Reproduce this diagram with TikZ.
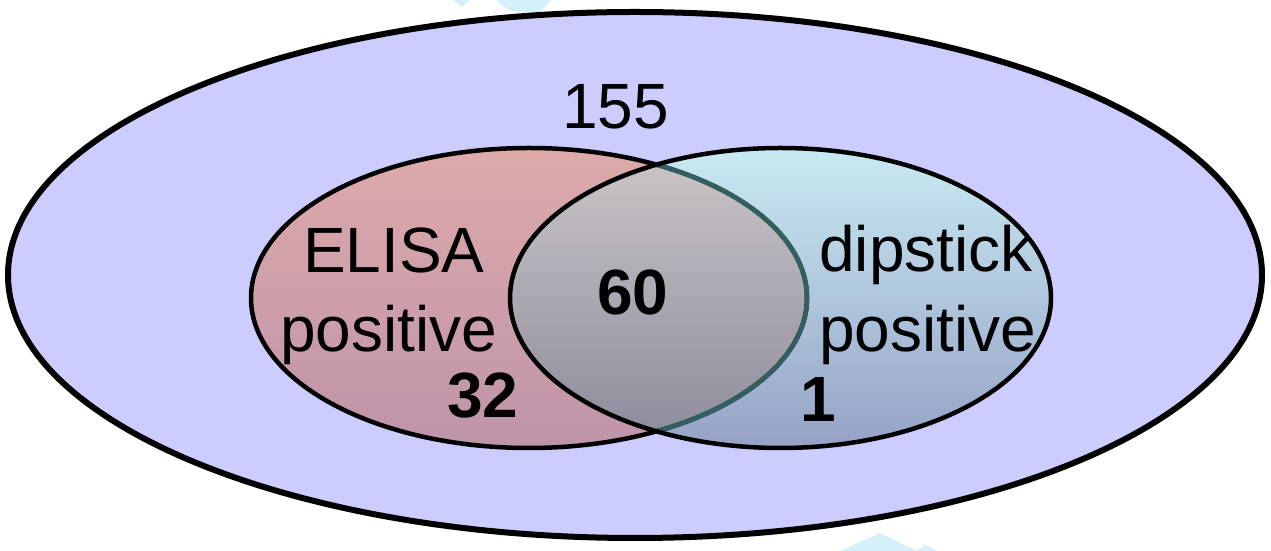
\documentclass[tikz,border=0pt]{standalone}
\usepackage{fontspec}
\setmainfont{Liberation Sans}
\definecolor{outerfill}{RGB}{204,204,255}
\definecolor{redtop}{RGB}{222,170,170}
\definecolor{redbot}{RGB}{190,148,170}
\definecolor{bluetop}{RGB}{200,234,242}
\definecolor{bluebot}{RGB}{150,162,198}
\definecolor{midtop}{RGB}{204,198,200}
\definecolor{midbot}{RGB}{140,138,155}
\definecolor{tealline}{RGB}{50,95,95}
\definecolor{wmark}{RGB}{212,240,250}
\tikzset{
  lbl/.style={inner sep=0pt, anchor=base west, font=\fontsize{64}{64}\selectfont},
  lblb/.style={lbl, font=\fontsize{64}{64}\selectfont\bfseries},
  outerline/.style={line width=6pt, draw=black},
  innerline/.style={line width=4.5pt, draw=black}
}
\begin{document}
\begin{tikzpicture}[x=1pt,y=1pt]
\useasboundingbox (0,0) rectangle (1271,551);
% faint watermark fragments
\fill[wmark] (453,551) -- (470,551) -- (462,544) -- cycle;
\fill[wmark] (496,551) -- (551,551) -- (540,538) -- (510,540) -- cycle;
\fill[wmark] (840,0) -- (917,0) -- (880,18) -- cycle;
\fill[wmark] (917,0) -- (938,0) -- (925,6) -- cycle;
% outer ellipse
\fill[outerfill] (635,276) ellipse [x radius=627, y radius=263];
% blue then red fills
\shade[top color=bluetop, bottom color=bluebot] (780.5,253) ellipse [x radius=270.5, y radius=150];
\shade[top color=redtop, bottom color=redbot] (529,253) ellipse [x radius=278, y radius=150];
% intersection
\begin{scope}
  \clip (529,253) ellipse [x radius=278, y radius=150];
  \shade[top color=midtop, bottom color=midbot] (780.5,253) ellipse [x radius=270.5, y radius=150];
\end{scope}
% outlines
\draw[innerline] (529,253) ellipse [x radius=278, y radius=150];
\begin{scope}
  \clip (780.5,253) ellipse [x radius=270.5, y radius=150];
  \draw[innerline, draw=tealline] (529,253) ellipse [x radius=278, y radius=150];
\end{scope}
\draw[innerline] (780.5,253) ellipse [x radius=270.5, y radius=150];
\draw[outerline] (635,276) ellipse [x radius=627, y radius=263];
% labels
\node[lbl] (total) at (562,422) {155};
\node[lbl] (elisa) at (303,278) {ELISA};
\node[lbl] (elisapos) at (280,199) {positive};
\node[lblb] (n32) at (447,133) {32};
\node[lblb] (n60) at (597,236) {60};
\node[lbl] (dip) at (819,279) {dipstick};
\node[lbl] (dippos) at (819,199) {positive};
\node[lblb] (n1) at (800,129) {1};
\end{tikzpicture}
\end{document}
